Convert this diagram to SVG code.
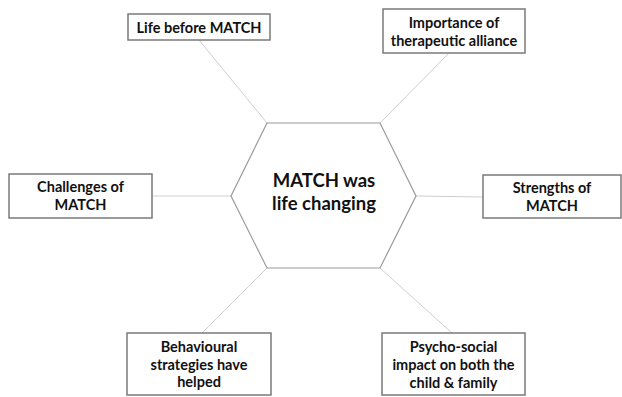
<svg xmlns="http://www.w3.org/2000/svg" width="622" height="397" viewBox="0 0 622 397">
<style>
.box{fill:#fff;stroke:#7a7a7a;stroke-width:1.5}
.hex{fill:#fff;stroke:#9a9a9a;stroke-width:1.2}
.con{stroke:#cfcfcf;stroke-width:1;fill:none}
text{font-family:Lato,"Liberation Sans",sans-serif;font-weight:bold;fill:#111;text-anchor:middle}
.t{font-size:14.5px}
.c{font-size:18.5px}
</style>
<rect width="622" height="397" fill="#fff"/>
<g id="connectors">
<line class="con" x1="199" y1="40" x2="267" y2="123"/>
<line class="con" x1="449" y1="53" x2="380" y2="123"/>
<line class="con" x1="152" y1="196" x2="231" y2="196"/>
<line class="con" x1="416" y1="196" x2="483" y2="197"/>
<line class="con" x1="267" y1="268" x2="202" y2="333"/>
<line class="con" x1="380" y1="268" x2="452" y2="333"/>
</g>
<g id="center">
<polygon class="hex" points="267,123 380,123 416,196 380,268 267,268 231,196"/>
<text class="c" x="324" y="187">MATCH was</text>
<text class="c" x="324" y="210">life changing</text>
</g>
<g id="life-before">
<rect class="box" x="128" y="14" width="142" height="26"/>
<text class="t" x="199" y="33">Life before MATCH</text>
</g>
<g id="importance">
<rect class="box" x="383" y="9" width="142" height="44"/>
<text class="t" x="454" y="28">Importance of</text>
<text class="t" x="454" y="46">therapeutic alliance</text>
</g>
<g id="challenges">
<rect class="box" x="9" y="174" width="143" height="44"/>
<text class="t" x="80.5" y="192">Challenges of</text>
<text class="t" x="80.5" y="210">MATCH</text>
</g>
<g id="strengths">
<rect class="box" x="483" y="175" width="138" height="43"/>
<text class="t" x="552" y="193">Strengths of</text>
<text class="t" x="552" y="211">MATCH</text>
</g>
<g id="behavioural">
<rect class="box" x="127" y="333" width="144" height="62"/>
<text class="t" x="199" y="352">Behavioural</text>
<text class="t" x="199" y="370">strategies have</text>
<text class="t" x="199" y="387">helped</text>
</g>
<g id="psycho">
<rect class="box" x="382" y="333" width="143" height="62"/>
<text class="t" x="453.5" y="352">Psycho-social</text>
<text class="t" x="453.5" y="370">impact on both the</text>
<text class="t" x="453.5" y="388">child &amp; family</text>
</g>
</svg>
